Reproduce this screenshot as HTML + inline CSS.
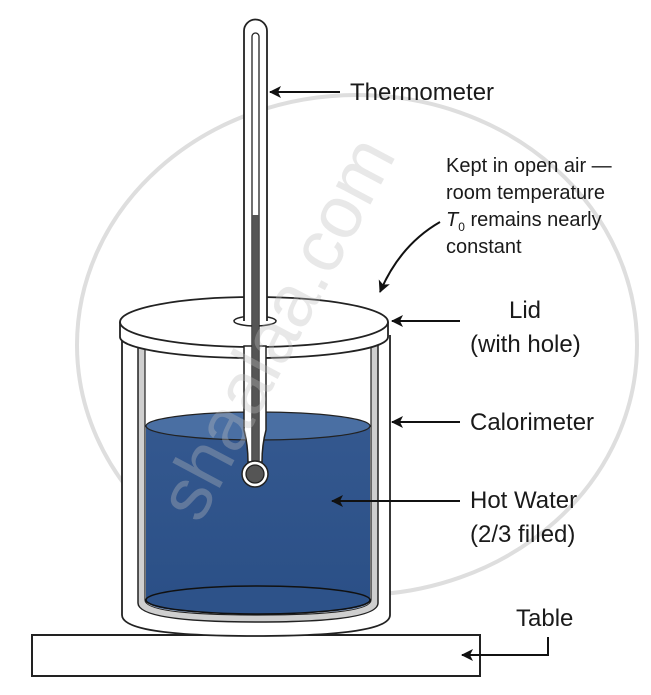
<!DOCTYPE html>
<html><head><meta charset="utf-8"><style>
html,body{margin:0;padding:0;background:#fff;}
svg{display:block;}
text{font-family:"Liberation Sans",sans-serif;fill:#1a1a1a;}
</style></head><body>
<svg width="651" height="695" viewBox="0 0 651 695" xmlns="http://www.w3.org/2000/svg">
<defs>
<marker id="ah" markerWidth="12" markerHeight="12" refX="11" refY="6" orient="auto" markerUnits="userSpaceOnUse">
<path d="M0,0 L12,6 L0,12 L3,6 Z" fill="#111"/>
</marker>
<linearGradient id="wg" x1="0" y1="0" x2="0" y2="1">
<stop offset="0" stop-color="#34588f"/><stop offset="1" stop-color="#2a4f86"/>
</linearGradient>
</defs>
<!-- watermark circle -->
<ellipse cx="357" cy="345" rx="280" ry="250" fill="none" stroke="#dedede" stroke-width="4"/>

<!-- table -->
<rect x="32" y="635" width="448" height="41" fill="#fff" stroke="#222" stroke-width="2"/>

<!-- outer calorimeter -->
<path d="M122,335 L122,615 Q122,636 255,636 Q390,636 390,615 L390,335" fill="#fff" stroke="#222" stroke-width="1.8"/>
<!-- inner vessel -->
<path d="M138,345 L138,603 Q138,622 258,622 Q378,622 378,603 L378,345" fill="#cfcfcf" stroke="#222" stroke-width="1.5"/>
<path d="M145,345 L145,600 Q145,615 258,615 Q371,615 371,600 L371,345 Z" fill="#fff" stroke="#222" stroke-width="1.2"/>
<!-- water -->
<path d="M146,426 L146,600 Q146,614 258,614 Q370,614 370,600 L370,426 Z" fill="url(#wg)"/>
<ellipse cx="258" cy="426" rx="112" ry="14" fill="#4a6fa3" stroke="#222" stroke-width="1.2"/>
<ellipse cx="258" cy="600" rx="112" ry="14" fill="#2d5289" stroke="#111" stroke-width="1.5"/>

<!-- lid -->
<path d="M120,322 L120,337 A134,21 0 0 0 388,337 L388,322" fill="#fff" stroke="#222" stroke-width="1.8"/>
<ellipse cx="254" cy="322" rx="134" ry="25" fill="#fff" stroke="#222" stroke-width="1.8"/>
<ellipse cx="255" cy="321" rx="21" ry="5" fill="#fff" stroke="#222" stroke-width="1.5"/>

<!-- thermometer -->
<path d="M244,321 L244,31 A11.5,11.5 0 0 1 267,31 L267,321" fill="#fff" stroke="#222" stroke-width="1.8"/>
<path d="M244,346 L244,430 Q248,445 248,462 L262,462 Q262,445 266,430 L266,346 Z" fill="#fff" stroke="#222" stroke-width="1.5"/>
<rect x="252" y="33" width="7" height="440" rx="3.5" fill="#fff" stroke="#222" stroke-width="1.3"/>
<rect x="252.7" y="215" width="5.6" height="255" fill="#555"/>
<circle cx="255" cy="474" r="13" fill="#fff" stroke="#222" stroke-width="1.5"/>
<circle cx="255" cy="474" r="9" fill="#555" stroke="#222" stroke-width="1.3"/>

<!-- watermark text overlay -->
<text x="0" y="0" transform="translate(200,525) rotate(-62)" font-size="74" style="fill:#bdbdbd;fill-opacity:0.35">shaalaa.com</text>

<!-- arrows -->
<g stroke="#111" stroke-width="2" fill="none">
<line x1="340" y1="92" x2="270" y2="92" marker-end="url(#ah)"/>
<path d="M440,222 Q400,245 380,292" marker-end="url(#ah)"/>
<line x1="460" y1="321" x2="392" y2="321" marker-end="url(#ah)"/>
<line x1="460" y1="422" x2="392" y2="422" marker-end="url(#ah)"/>
<line x1="460" y1="501" x2="332" y2="501" marker-end="url(#ah)"/>
<path d="M548,637 L548,655 L462,655" marker-end="url(#ah)"/>
</g>

<!-- labels -->
<text x="350" y="100" font-size="24">Thermometer</text>
<text x="446" y="172" font-size="20">Kept in open air —</text>
<text x="446" y="199" font-size="20">room temperature</text>
<text x="446" y="226" font-size="20"><tspan font-style="italic">T</tspan><tspan font-size="12" dy="5">0</tspan><tspan dy="-5"> remains nearly</tspan></text>
<text x="446" y="253" font-size="20">constant</text>
<text x="509" y="318" font-size="24">Lid</text>
<text x="470" y="352" font-size="24">(with hole)</text>
<text x="470" y="430" font-size="24">Calorimeter</text>
<text x="470" y="508" font-size="24">Hot Water</text>
<text x="470" y="542" font-size="24">(2/3 filled)</text>
<text x="516" y="626" font-size="24">Table</text>
</svg>
</body></html>
